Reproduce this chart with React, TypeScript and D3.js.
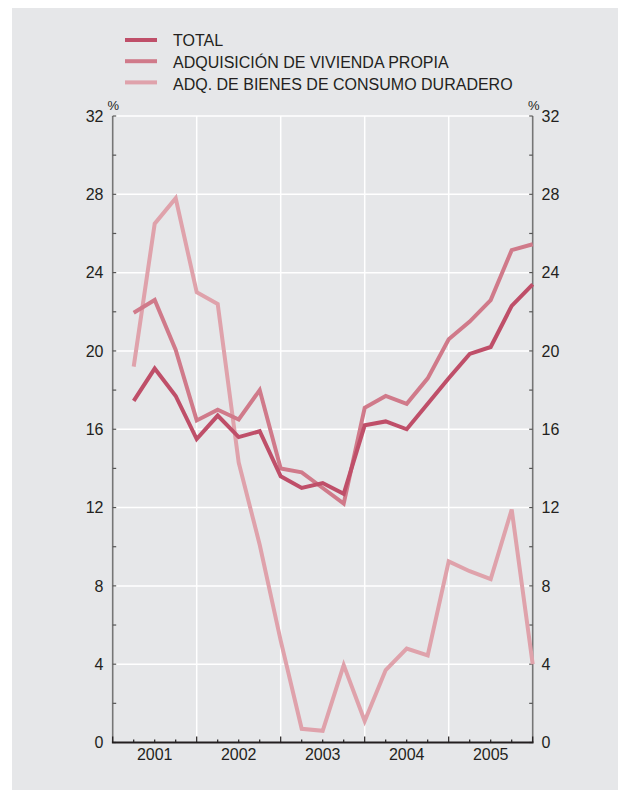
import React from "react";
import * as d3 from "d3";

const quarters = d3.range(1, 21);
const years = ["2001", "2002", "2003", "2004", "2005"];
const yTicks = [0, 4, 8, 12, 16, 20, 24, 28, 32];

const total = [17.45, 19.1, 17.7, 15.5, 16.7, 15.6, 15.9, 13.6, 13.0, 13.25, 12.7, 16.2, 16.4, 16.0, 17.3, 18.6, 19.85, 20.2, 22.3, 23.4];
const vivienda = [21.95, 22.6, 20.05, 16.45, 17.0, 16.5, 18.0, 14.0, 13.8, 13.0, 12.2, 17.1, 17.7, 17.3, 18.6, 20.6, 21.5, 22.6, 25.15, 25.45];
const consumo = [19.2, 26.5, 27.8, 23.0, 22.4, 14.3, 10.1, 5.2, 0.7, 0.6, 3.95, 1.1, 3.7, 4.8, 4.45, 9.25, 8.75, 8.35, 11.9, 4.0];

const seriesNames = ["TOTAL", "ADQUISICIÓN DE VIVIENDA PROPIA", "ADQ. DE BIENES DE CONSUMO DURADERO"];
const seriesColors = ["#bf4f69", "#d07a8a", "#dfa2ab"];

export default function App() {
  const W = 630, H = 794;
  const left = 112.7, right = 532.7, top = 116, bottom = 742.5;
  const x = d3.scaleLinear().domain([0, 20]).range([left, right]);
  const y = d3.scaleLinear().domain([0, 32]).range([bottom, top]);
  const line = d3.line<number>().x((_, i) => x(quarters[i])).y((d) => y(d));
  const data = [total, vivienda, consumo];
  const font = "'Liberation Sans', Arial, sans-serif";
  const minor = d3.range(0, 33, 2);
  return (
    <svg width={W} height={H} style={{ position: "absolute", left: 0, top: 0 }} fontFamily={font}>
      <rect x={0} y={0} width={W} height={H} fill="#ffffff" />
      <rect x={12} y={8} width={606} height={782} fill="#e6e7e9" />
      {/* horizontal gridlines */}
      {yTicks.slice(1).map((t) => (
        <line key={"g" + t} x1={left} x2={right} y1={y(t)} y2={y(t)} stroke="#ffffff" strokeWidth={1.5} />
      ))}
      {/* vertical year gridlines */}
      {d3.range(4, 20, 4).map((q) => (
        <line key={"v" + q} x1={x(q)} x2={x(q)} y1={top} y2={bottom} stroke="#ffffff" strokeWidth={1.5} />
      ))}
      {/* axes */}
      <line x1={left} x2={left} y1={top} y2={bottom} stroke="#767676" strokeWidth={1.6} />
      <line x1={right} x2={right} y1={top} y2={bottom} stroke="#767676" strokeWidth={1.6} />
      {minor.map((t) => (
        <g key={"t" + t}>
          <line x1={left} x2={left + 3.5} y1={y(t)} y2={y(t)} stroke="#555" strokeWidth={1.2} />
          <line x1={right - 3.5} x2={right} y1={y(t)} y2={y(t)} stroke="#555" strokeWidth={1.2} />
        </g>
      ))}
      {yTicks.map((t) => (
        <g key={"l" + t} fontSize={16} fill="#231f20">
          <text x={103.5} y={y(t) + 5.8} textAnchor="end">{t}</text>
          <text x={541.5} y={y(t) + 5.8} textAnchor="start">{t}</text>
        </g>
      ))}
      <text x={107.5} y={110} fontSize={13} fill="#231f20">%</text>
      <text x={528} y={110} fontSize={13} fill="#231f20">%</text>
      {/* lines */}
      {[2, 1, 0].map((s) => (
        <path key={"s" + s} d={line(data[s]) || ""} fill="none" stroke={seriesColors[s]} strokeWidth={4} strokeLinejoin="miter" />
      ))}
      {/* bottom axis */}
      <line x1={left - 0.8} x2={right + 0.8} y1={bottom} y2={bottom} stroke="#231f20" strokeWidth={2} />
      {d3.range(0, 21).map((q) => (
        <line key={"q" + q} x1={x(q)} x2={x(q)} y1={bottom} y2={bottom - (q % 4 === 0 ? 6 : 3)} stroke="#231f20" strokeWidth={1.2} />
      ))}
      {years.map((yr, i) => (
        <text key={yr} x={x(i * 4 + 2)} y={760} textAnchor="middle" fontSize={16} fill="#231f20">{yr}</text>
      ))}
      {/* legend */}
      {seriesNames.map((n, i) => (
        <g key={n}>
          <line x1={125} x2={157} y1={40 + i * 21.2} y2={40 + i * 21.2} stroke={seriesColors[i]} strokeWidth={4} />
          <text x={173} y={45.7 + i * 22.2} fontSize={16} fill="#231f20">{n}</text>
        </g>
      ))}
    </svg>
  );
}
